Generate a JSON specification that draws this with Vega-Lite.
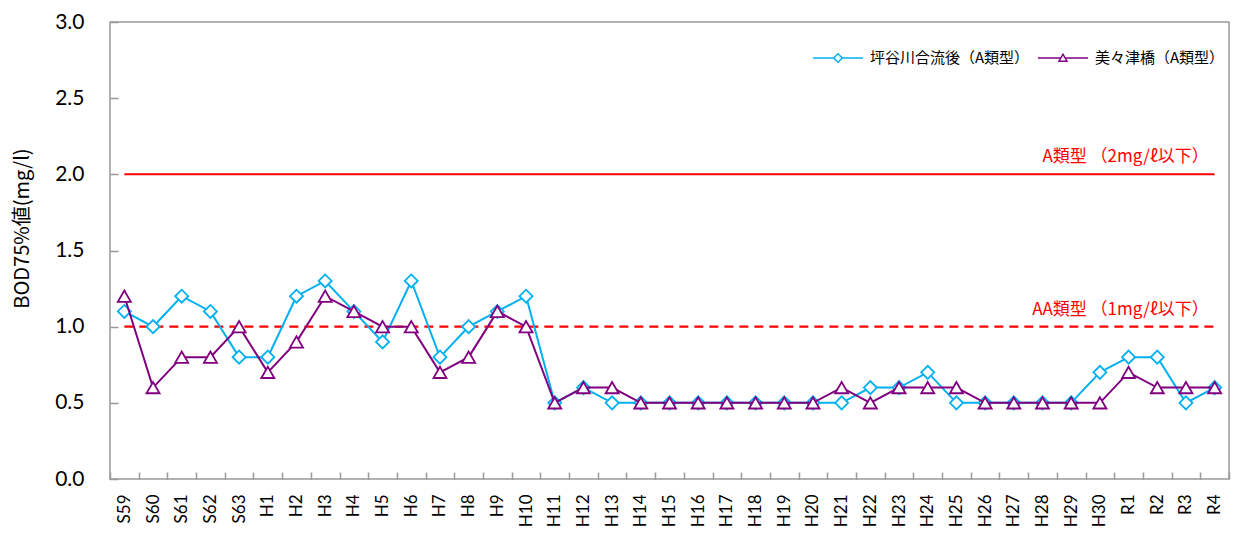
{
  "$schema": "https://vega.github.io/schema/vega-lite/v6.json",
  "width": 1119,
  "height": 457,
  "autosize": {"type": "none"},
  "padding": {"left": 110, "top": 22, "right": 10, "bottom": 57},
  "background": "white",
  "config": {
    "view": {"stroke": "#999999", "strokeWidth": 1.5},
    "font": "Lato"
  },
  "datasets": {
    "bod": [
      {"year": "S59", "site": "坪谷川合流後（A類型）", "value": 1.1},
      {"year": "S60", "site": "坪谷川合流後（A類型）", "value": 1.0},
      {"year": "S61", "site": "坪谷川合流後（A類型）", "value": 1.2},
      {"year": "S62", "site": "坪谷川合流後（A類型）", "value": 1.1},
      {"year": "S63", "site": "坪谷川合流後（A類型）", "value": 0.8},
      {"year": "H1", "site": "坪谷川合流後（A類型）", "value": 0.8},
      {"year": "H2", "site": "坪谷川合流後（A類型）", "value": 1.2},
      {"year": "H3", "site": "坪谷川合流後（A類型）", "value": 1.3},
      {"year": "H4", "site": "坪谷川合流後（A類型）", "value": 1.1},
      {"year": "H5", "site": "坪谷川合流後（A類型）", "value": 0.9},
      {"year": "H6", "site": "坪谷川合流後（A類型）", "value": 1.3},
      {"year": "H7", "site": "坪谷川合流後（A類型）", "value": 0.8},
      {"year": "H8", "site": "坪谷川合流後（A類型）", "value": 1.0},
      {"year": "H9", "site": "坪谷川合流後（A類型）", "value": 1.1},
      {"year": "H10", "site": "坪谷川合流後（A類型）", "value": 1.2},
      {"year": "H11", "site": "坪谷川合流後（A類型）", "value": 0.5},
      {"year": "H12", "site": "坪谷川合流後（A類型）", "value": 0.6},
      {"year": "H13", "site": "坪谷川合流後（A類型）", "value": 0.5},
      {"year": "H14", "site": "坪谷川合流後（A類型）", "value": 0.5},
      {"year": "H15", "site": "坪谷川合流後（A類型）", "value": 0.5},
      {"year": "H16", "site": "坪谷川合流後（A類型）", "value": 0.5},
      {"year": "H17", "site": "坪谷川合流後（A類型）", "value": 0.5},
      {"year": "H18", "site": "坪谷川合流後（A類型）", "value": 0.5},
      {"year": "H19", "site": "坪谷川合流後（A類型）", "value": 0.5},
      {"year": "H20", "site": "坪谷川合流後（A類型）", "value": 0.5},
      {"year": "H21", "site": "坪谷川合流後（A類型）", "value": 0.5},
      {"year": "H22", "site": "坪谷川合流後（A類型）", "value": 0.6},
      {"year": "H23", "site": "坪谷川合流後（A類型）", "value": 0.6},
      {"year": "H24", "site": "坪谷川合流後（A類型）", "value": 0.7},
      {"year": "H25", "site": "坪谷川合流後（A類型）", "value": 0.5},
      {"year": "H26", "site": "坪谷川合流後（A類型）", "value": 0.5},
      {"year": "H27", "site": "坪谷川合流後（A類型）", "value": 0.5},
      {"year": "H28", "site": "坪谷川合流後（A類型）", "value": 0.5},
      {"year": "H29", "site": "坪谷川合流後（A類型）", "value": 0.5},
      {"year": "H30", "site": "坪谷川合流後（A類型）", "value": 0.7},
      {"year": "R1", "site": "坪谷川合流後（A類型）", "value": 0.8},
      {"year": "R2", "site": "坪谷川合流後（A類型）", "value": 0.8},
      {"year": "R3", "site": "坪谷川合流後（A類型）", "value": 0.5},
      {"year": "R4", "site": "坪谷川合流後（A類型）", "value": 0.6},
      {"year": "S59", "site": "美々津橋（A類型）", "value": 1.2},
      {"year": "S60", "site": "美々津橋（A類型）", "value": 0.6},
      {"year": "S61", "site": "美々津橋（A類型）", "value": 0.8},
      {"year": "S62", "site": "美々津橋（A類型）", "value": 0.8},
      {"year": "S63", "site": "美々津橋（A類型）", "value": 1.0},
      {"year": "H1", "site": "美々津橋（A類型）", "value": 0.7},
      {"year": "H2", "site": "美々津橋（A類型）", "value": 0.9},
      {"year": "H3", "site": "美々津橋（A類型）", "value": 1.2},
      {"year": "H4", "site": "美々津橋（A類型）", "value": 1.1},
      {"year": "H5", "site": "美々津橋（A類型）", "value": 1.0},
      {"year": "H6", "site": "美々津橋（A類型）", "value": 1.0},
      {"year": "H7", "site": "美々津橋（A類型）", "value": 0.7},
      {"year": "H8", "site": "美々津橋（A類型）", "value": 0.8},
      {"year": "H9", "site": "美々津橋（A類型）", "value": 1.1},
      {"year": "H10", "site": "美々津橋（A類型）", "value": 1.0},
      {"year": "H11", "site": "美々津橋（A類型）", "value": 0.5},
      {"year": "H12", "site": "美々津橋（A類型）", "value": 0.6},
      {"year": "H13", "site": "美々津橋（A類型）", "value": 0.6},
      {"year": "H14", "site": "美々津橋（A類型）", "value": 0.5},
      {"year": "H15", "site": "美々津橋（A類型）", "value": 0.5},
      {"year": "H16", "site": "美々津橋（A類型）", "value": 0.5},
      {"year": "H17", "site": "美々津橋（A類型）", "value": 0.5},
      {"year": "H18", "site": "美々津橋（A類型）", "value": 0.5},
      {"year": "H19", "site": "美々津橋（A類型）", "value": 0.5},
      {"year": "H20", "site": "美々津橋（A類型）", "value": 0.5},
      {"year": "H21", "site": "美々津橋（A類型）", "value": 0.6},
      {"year": "H22", "site": "美々津橋（A類型）", "value": 0.5},
      {"year": "H23", "site": "美々津橋（A類型）", "value": 0.6},
      {"year": "H24", "site": "美々津橋（A類型）", "value": 0.6},
      {"year": "H25", "site": "美々津橋（A類型）", "value": 0.6},
      {"year": "H26", "site": "美々津橋（A類型）", "value": 0.5},
      {"year": "H27", "site": "美々津橋（A類型）", "value": 0.5},
      {"year": "H28", "site": "美々津橋（A類型）", "value": 0.5},
      {"year": "H29", "site": "美々津橋（A類型）", "value": 0.5},
      {"year": "H30", "site": "美々津橋（A類型）", "value": 0.5},
      {"year": "R1", "site": "美々津橋（A類型）", "value": 0.7},
      {"year": "R2", "site": "美々津橋（A類型）", "value": 0.6},
      {"year": "R3", "site": "美々津橋（A類型）", "value": 0.6},
      {"year": "R4", "site": "美々津橋（A類型）", "value": 0.6}
    ],
    "std": [
      {"k": "A", "year": "S59", "value": 2},
      {"k": "A", "year": "R4", "value": 2},
      {"k": "AA", "year": "S59", "value": 1},
      {"k": "AA", "year": "R4", "value": 1}
    ],
    "lab": [
      {"year": "R4", "value": 2, "t": "A類型 （2mg/ℓ以下）"},
      {"year": "R4", "value": 1, "t": "AA類型 （1mg/ℓ以下）"}
    ]
  },
  "encoding": {
    "x": {
      "field": "year",
      "type": "nominal",
      "bandPosition": 0.5,
      "scale": {
        "type": "band",
        "paddingInner": 0,
        "paddingOuter": 0,
        "domain": ["S59","S60","S61","S62","S63","H1","H2","H3","H4","H5","H6","H7","H8","H9","H10","H11","H12","H13","H14","H15","H16","H17","H18","H19","H20","H21","H22","H23","H24","H25","H26","H27","H28","H29","H30","R1","R2","R3","R4"]
      },
      "axis": {
        "title": null,
        "labelAngle": -90,
        "labelFont": "Lato",
        "labelFontSize": 17,
        "labelColor": "#000000",
        "labelPadding": 22,
        "tickBand": "extent",
        "tickSize": -7,
        "tickColor": "#999999",
        "tickWidth": 1.5,
        "domain": false,
        "grid": false
      }
    },
    "y": {
      "field": "value",
      "type": "quantitative",
      "scale": {"domain": [0, 3], "nice": false, "zero": true},
      "axis": {
        "title": "BOD75%値(mg/l)",
        "titleFont": "Noto Sans CJK JP",
        "titleFontSize": 20,
        "titleFontWeight": "normal",
        "titleColor": "#000000",
        "titleX": -88,
        "titleY": 206,
        "titleAngle": -90,
        "titleAlign": "center",
        "titleBaseline": "middle",
        "values": [0, 0.5, 1, 1.5, 2, 2.5, 3],
        "format": ".1f",
        "labelFont": "Lato",
        "labelFontSize": 21,
        "labelColor": "#000000",
        "labelPadding": 34,
        "tickSize": -8,
        "tickColor": "#999999",
        "tickWidth": 1.5,
        "domain": false,
        "grid": false
      }
    }
  },
  "layer": [
    {
      "data": {"name": "std"},
      "transform": [{"filter": "datum.k === 'A'"}],
      "mark": {"type": "line", "color": "#FF0000", "strokeWidth": 2}
    },
    {
      "data": {"name": "std"},
      "transform": [{"filter": "datum.k === 'AA'"}],
      "mark": {"type": "line", "color": "#FF0000", "strokeWidth": 2.2, "strokeDash": [9, 6]}
    },
    {
      "data": {"name": "lab"},
      "mark": {"type": "text", "color": "#FF0000", "font": "Noto Sans CJK JP", "fontSize": 17, "align": "right", "baseline": "middle", "dx": -6, "dy": -17},
      "encoding": {"text": {"field": "t", "type": "nominal"}}
    },
    {
      "data": {"name": "bod"},
      "transform": [{"filter": "datum.site === '坪谷川合流後（A類型）'"}],
      "mark": {"type": "line", "strokeWidth": 2},
      "encoding": {
        "color": {
          "field": "site",
          "type": "nominal",
          "scale": {"domain": ["坪谷川合流後（A類型）", "美々津橋（A類型）"], "range": ["#00B0F0", "#800080"]},
          "legend": {
            "title": null,
            "orient": "none",
            "legendX": 702,
            "legendY": 10,
            "direction": "horizontal",
            "symbolSize": 2500,
            "symbolStrokeWidth": 1.5,
            "symbolFillColor": "#ffffff",
            "labelFont": "Noto Sans CJK JP",
            "labelFontSize": 15,
            "labelColor": "#000000",
            "labelOffset": 6,
            "columnPadding": 5,
            "encode": {
              "symbols": {
                "update": {
                  "shape": {"signal": "datum.value === '坪谷川合流後（A類型）' ? 'M-1,0L-0.17,0M0.17,0L1,0M0,-0.17L0.17,0L0,0.17L-0.17,0Z' : 'M-1,0L-0.09,0M0.09,0L1,0M0,-0.15L0.16,0.13L-0.16,0.13Z'"},
                  "fill": {"value": "#ffffff"},
                  "strokeWidth": {"value": 1.5}
                }
              }
            }
          }
        }
      }
    },
    {
      "data": {"name": "bod"},
      "transform": [{"filter": "datum.site === '坪谷川合流後（A類型）'"}],
      "mark": {"type": "point", "shape": "diamond", "size": 170, "filled": false, "fill": "#ffffff", "strokeWidth": 1.8, "opacity": 1},
      "encoding": {"color": {"field": "site", "type": "nominal"}}
    },
    {
      "data": {"name": "bod"},
      "transform": [{"filter": "datum.site === '美々津橋（A類型）'"}],
      "mark": {"type": "line", "strokeWidth": 2},
      "encoding": {"color": {"field": "site", "type": "nominal"}}
    },
    {
      "data": {"name": "bod"},
      "transform": [{"filter": "datum.site === '美々津橋（A類型）'"}],
      "mark": {"type": "point", "shape": "triangle-up", "size": 170, "filled": false, "fill": "#ffffff", "strokeWidth": 1.8, "opacity": 1},
      "encoding": {"color": {"field": "site", "type": "nominal"}}
    }
  ]
}
